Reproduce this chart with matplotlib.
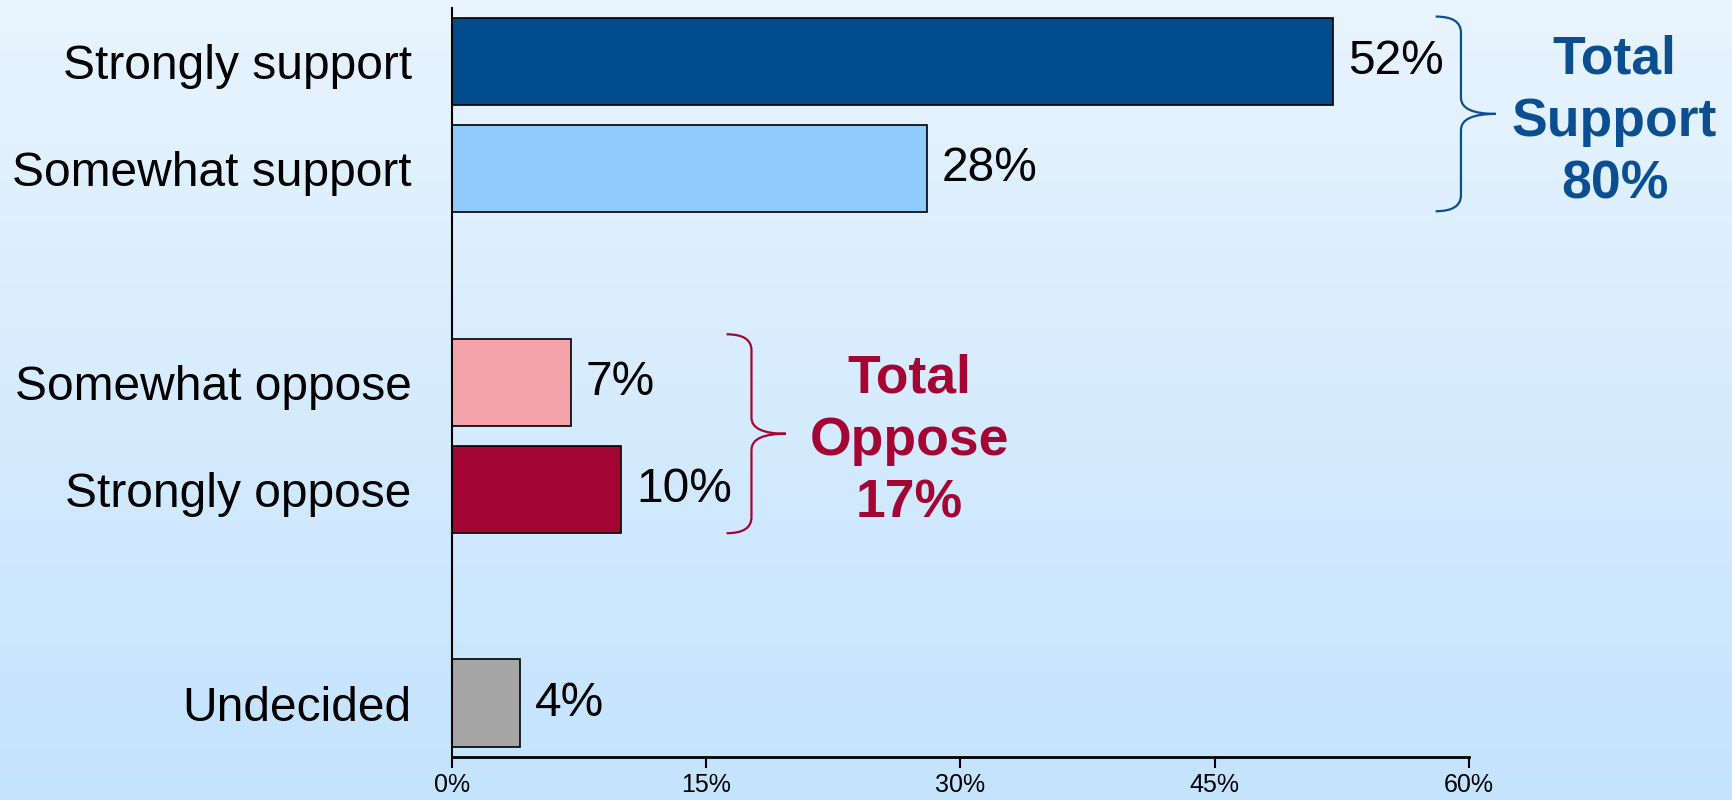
import numpy as np
import matplotlib.pyplot as plt
from matplotlib.path import Path
from matplotlib.patches import PathPatch

categories = ['Strongly support', 'Somewhat support', 'Somewhat oppose',
              'Strongly oppose', 'Undecided']
values = [52, 28, 7, 10, 4]
positions = [0, 1, 3, 4, 6]
colors = ['#014C8D', '#8FCBFD', '#F4A4A9', '#A50533', '#A6A6A6']
xticks = [0, 15, 30, 45, 60]

groups = ['Total\nSupport\n80%', 'Total\nOppose\n17%']
group_colors = ['#0B4F91', '#A50533']

plt.rcParams['font.family'] = ['Liberation Sans', 'DejaVu Sans']

fig = plt.figure(figsize=(17.32, 8), dpi=100)

# gradient background
bg = fig.add_axes([0, 0, 1, 1], zorder=-10)
grad = np.linspace(0, 1, 256).reshape(-1, 1)
top = np.array([232, 244, 254]) / 255
bot = np.array([196, 227, 253]) / 255
img = top + (bot - top) * grad[:, :, None]
bg.imshow(img, aspect='auto', extent=[0, 1, 0, 1])
bg.axis('off')

ax = fig.add_axes([0.261, 0.054, 0.587, 0.936])
ax.patch.set_alpha(0)
ax.barh(positions, values, height=0.82, color=colors, edgecolor='black', linewidth=1.2)
ax.set_xlim(0, 60)
ax.set_ylim(6.5, -0.5)
ax.set_yticks(positions)
ax.set_yticklabels(categories, fontsize=34.5)
ax.tick_params(axis='y', length=0, pad=29)
ax.set_xticks(xticks)
ax.set_xticklabels([f'{t}%' for t in xticks], fontsize=18)
ax.tick_params(axis='x', length=8, width=1.5, direction='out', pad=4)
for s in ['top', 'right']:
    ax.spines[s].set_visible(False)
ax.spines['left'].set_linewidth(1.5)
ax.spines['bottom'].set_linewidth(2)

for p, v in zip(positions, values):
    ax.text(v + 0.9, p, f'{v}%', va='center', ha='left', fontsize=34.5)


def brace(ax, x0, y0, y1, w, color):
    ym = (y0 + y1) / 2
    xv = x0 + w * 0.42
    xt = x0 + w
    c = 0.15
    verts = [(x0, y0), (xv, y0), (xv, y0 + c), (xv, y0 + c + 0.05),
             (xv, ym - c), (xv, ym), (xt, ym), (xv, ym), (xv, ym + c),
             (xv, y1 - c - 0.05), (xv, y1 - c), (xv, y1), (x0, y1)]
    codes = [Path.MOVETO, Path.CURVE3, Path.CURVE3, Path.LINETO,
             Path.LINETO, Path.CURVE3, Path.CURVE3, Path.CURVE3, Path.CURVE3,
             Path.LINETO, Path.LINETO, Path.CURVE3, Path.CURVE3]
    ax.add_patch(PathPatch(Path(verts, codes), fill=False, edgecolor=color,
                           linewidth=1.6, clip_on=False))


brace(ax, 58.05, -0.42, 1.40, 3.55, group_colors[0])
brace(ax, 16.2, 2.55, 4.41, 3.5, group_colors[1])

ax.text(68.6, 0.57, groups[0], ha='center', va='center', fontsize=38.5,
        fontweight='bold', color=group_colors[0], linespacing=1.32, clip_on=False)
ax.text(27.0, 3.55, groups[1], ha='center', va='center', fontsize=38.5,
        fontweight='bold', color=group_colors[1], linespacing=1.32)

fig.savefig('out.png', dpi=100)
